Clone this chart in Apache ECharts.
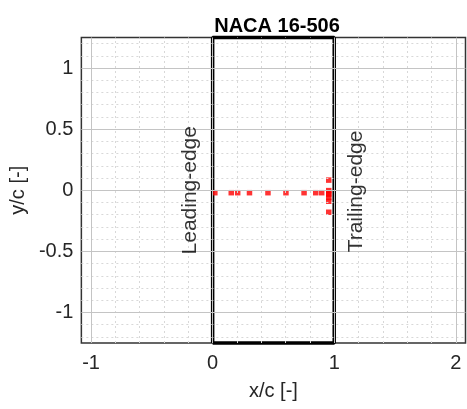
<!DOCTYPE html>
<html>
<head>
<meta charset="utf-8">
<script src="https://cdn.jsdelivr.net/npm/echarts@6/dist/echarts.min.js"></script>
<style>
  html, body { margin: 0; padding: 0; background: #fff; }
  #chart { width: 467px; height: 409px; }
</style>
</head>
<body>
<div id="chart"></div>
<script>
// Axis ticks (labelled) and minor grid positions
const xTicks = [-1, 0, 1, 2];
const yTicks = [-1, -0.5, 0, 0.5, 1];
const xMinor = [-0.8, -0.6, -0.4, -0.2, 0.2, 0.4, 0.6, 0.8, 1.2, 1.4, 1.6, 1.8];
const yMinor = [-1.2, -1.1, -0.9, -0.8, -0.7, -0.6, -0.4, -0.3, -0.2, -0.1,
                0.1, 0.2, 0.3, 0.4, 0.6, 0.7, 0.8, 0.9, 1.1, 1.2];

// Airfoil section coordinates (x/c, y/c)
const profileX = [0.018, 0.153, 0.206, 0.303, 0.455, 0.603, 0.752, 0.848, 0.897,
                  0.955, 0.955, 0.955, 0.955, 0.955, 0.955, 0.955];
const profileY = [-0.02, -0.02, -0.02, -0.02, -0.02, -0.02, -0.02, -0.02, -0.02,
                  0.083, -0.003, -0.02, -0.035, -0.06, -0.09, -0.18];

// Chord box: leading edge at x/c = 0, trailing edge at x/c = 1
const boxX = [0, 0, 1, 1, 0];
const boxY = [-1.25, 1.25, 1.25, -1.25, -1.25];

// Edge annotations
const annotations = [
  { name: 'Leading-edge', x: -0.188, y: 0.0 },
  { name: 'Trailing-edge', x: 1.18, y: -0.01 }
];

const FONT = 'Liberation Sans, Arial, Helvetica, sans-serif';
const TXT = '#262626';

const chart = echarts.init(document.getElementById('chart'), null, { renderer: 'canvas' });

const vLines = (vals) => vals.map(v => ({ xAxis: v }));
const hLines = (vals) => vals.map(v => ({ yAxis: v }));

chart.setOption({
  animation: false,
  backgroundColor: '#ffffff',
  title: {
    text: 'NACA 16-506',
    left: 272,
    top: 11,
    textAlign: 'center',
    textStyle: { fontFamily: FONT, fontSize: 20, fontWeight: 'bold', color: '#000' }
  },
  grid: {
    left: 79, right: 1.5, top: 37.5, bottom: 66,
    show: true, borderColor: '#333333', borderWidth: 1.5, backgroundColor: 'transparent'
  },
  xAxis: {
    type: 'value', min: -1.08, max: 2.08,
    name: 'x/c [-]', nameLocation: 'middle', nameGap: 38,
    nameTextStyle: { fontFamily: FONT, fontSize: 20, color: TXT },
    axisLine: { show: false },
    axisTick: { show: false },
    splitLine: { show: false },
    axisLabel: {
      customValues: xTicks, margin: 10,
      fontFamily: FONT, fontSize: 20, color: TXT
    }
  },
  yAxis: {
    type: 'value', min: -1.25, max: 1.25,
    name: 'y/c [-]', nameLocation: 'middle', nameGap: 44, nameRotate: 90,
    nameTextStyle: { fontFamily: FONT, fontSize: 20, color: TXT },
    axisLine: { show: false },
    axisTick: { show: false },
    splitLine: { show: false },
    axisLabel: {
      customValues: yTicks, margin: 8,
      fontFamily: FONT, fontSize: 20, color: TXT
    }
  },
  series: [
    {
      // minor grid (dotted)
      type: 'line', data: [], silent: true, z: 1,
      markLine: {
        silent: true, symbol: 'none', animation: false,
        label: { show: false },
        lineStyle: { color: '#d8d8d8', width: 1, type: [2, 3] },
        data: vLines(xMinor).concat(hLines(yMinor))
      }
    },
    {
      // major grid (solid)
      type: 'line', data: [], silent: true, z: 1,
      markLine: {
        silent: true, symbol: 'none', animation: false,
        label: { show: false },
        lineStyle: { color: '#c4c4c4', width: 1, type: 'solid' },
        data: vLines(xTicks).concat(hLines(yTicks))
      }
    },
    {
      name: 'chord box', type: 'line', clip: false, z: 3,
      symbol: 'none',
      lineStyle: { color: '#000000', width: 3.5 },
      data: boxX.map((x, i) => [x, boxY[i]])
    },
    {
      name: 'profile', type: 'scatter', z: 4,
      symbol: 'rect', symbolSize: 5.5,
      itemStyle: { color: '#ff0000' },
      data: profileX.map((x, i) => [x, profileY[i]])
    },
    {
      name: 'labels', type: 'scatter', z: 5, silent: true,
      symbolSize: 0,
      label: {
        show: true, position: 'inside', rotate: 90,
        formatter: p => p.name,
        fontFamily: FONT, fontSize: 21, color: '#000',
        align: 'center', verticalAlign: 'middle'
      },
      data: annotations.map(a => ({ name: a.name, value: [a.x, a.y] }))
    }
  ]
});
</script>
</body>
</html>
